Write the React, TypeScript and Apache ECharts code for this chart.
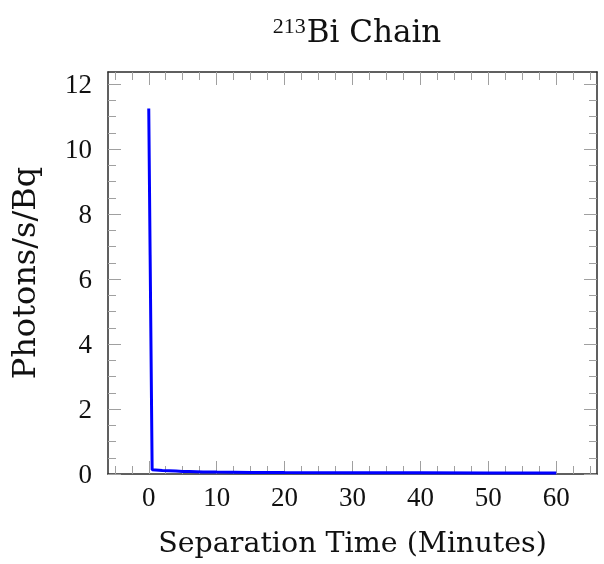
import React, { useEffect, useRef } from "react";
import * as echarts from "echarts";

// Separation time (minutes) and photon yield per decay
const times = [0, 0.5, 2, 3, 4, 5, 6, 8, 10, 15, 20, 30, 40, 50, 60];
const photons = [11.25, 0.13, 0.11, 0.1, 0.09, 0.08, 0.075, 0.065, 0.06, 0.05, 0.045, 0.04, 0.035, 0.03, 0.028];

const xMajorTicks = [0, 10, 20, 30, 40, 50, 60];
const yMajorTicks = [0, 2, 4, 6, 8, 10, 12];

const X_MIN = -6;
const X_MAX = 66;
const Y_MIN = 0;
const Y_MAX = 12.375;

const NUM_FONT = "'Liberation Serif', 'DejaVu Serif', serif";
const WORD_FONT = "'DejaVu Serif', 'Liberation Serif', serif";
const TICK_COLOR = "#a0a0a0";
const FRAME_COLOR = "#2b2b2b";

// minor ticks: three between each pair of majors
function minorTicks(majors: number[], lo: number, hi: number): number[] {
  const major = majors[1] - majors[0];
  const step = major / 4;
  const out: number[] = [];
  const start = majors[0] - major * Math.ceil((majors[0] - lo) / major);
  for (let k = 0; start + k * step <= hi + 1e-9; k++) {
    const v = start + k * step;
    if (k % 4 !== 0 && v > lo + 1e-9 && v < hi - 1e-9) out.push(+v.toFixed(6));
  }
  return out;
}

export default function App() {
  const ref = useRef<HTMLDivElement>(null);

  useEffect(() => {
    if (!ref.current) return;
    const chart = echarts.init(ref.current, null, { renderer: "svg" });

    const xMinor = minorTicks(xMajorTicks, X_MIN, X_MAX);
    const yMinor = minorTicks(yMajorTicks, Y_MIN, Y_MAX);

    const xBase = { type: "value" as const, min: X_MIN, max: X_MAX, splitLine: { show: false } };
    const yBase = { type: "value" as const, min: Y_MIN, max: Y_MAX, splitLine: { show: false } };

    const majorTick = (vals: number[]) => ({
      show: true,
      inside: true,
      length: 13,
      customValues: vals,
      lineStyle: { color: TICK_COLOR, width: 1 },
    });
    const minorTick = (vals: number[]) => ({
      show: true,
      inside: true,
      length: 8,
      customValues: vals,
      lineStyle: { color: TICK_COLOR, width: 1 },
    });
    const frameLine = { show: true, onZero: false, lineStyle: { color: FRAME_COLOR, width: 1.5 } };
    const hiddenLine = { show: false, onZero: false };

    chart.setOption({
      animation: false,
      title: {
        text: "{sup|213}{main|Bi Chain}",
        left: 352,
        top: 9,
        textAlign: "center",
        textStyle: {
          fontWeight: "normal",
          rich: {
            sup: { fontFamily: NUM_FONT, fontSize: 22, fontWeight: "normal", color: "#111", verticalAlign: "top", padding: [0, 1, 12, 0] },
            main: { fontFamily: WORD_FONT, fontSize: 31, fontWeight: "normal", color: "#111" },
          },
        },
      },
      grid: { left: 107, top: 72, width: 490, height: 402 },
      xAxis: [
        {
          ...xBase,
          position: "bottom",
          axisLine: frameLine,
          axisTick: majorTick(xMajorTicks),
          axisLabel: {
            customValues: xMajorTicks,
            fontFamily: NUM_FONT,
            fontSize: 27,
            color: "#111",
            margin: 9,
          },
          name: "Separation Time (Minutes)",
          nameLocation: "middle",
          nameGap: 54,
          nameTextStyle: { fontFamily: WORD_FONT, fontSize: 28.5, color: "#111" },
        },
        { ...xBase, position: "bottom", axisLine: hiddenLine, axisTick: minorTick(xMinor), axisLabel: { show: false } },
        { ...xBase, position: "top", axisLine: frameLine, axisTick: majorTick(xMajorTicks), axisLabel: { show: false } },
        { ...xBase, position: "top", axisLine: hiddenLine, axisTick: minorTick(xMinor), axisLabel: { show: false } },
      ],
      yAxis: [
        {
          ...yBase,
          position: "left",
          axisLine: frameLine,
          axisTick: majorTick(yMajorTicks),
          axisLabel: {
            customValues: yMajorTicks,
            fontFamily: NUM_FONT,
            fontSize: 27,
            color: "#111",
            margin: 16,
          },
          name: "Photons/s/Bq",
          nameLocation: "middle",
          nameGap: 68,
          nameTextStyle: { fontFamily: WORD_FONT, fontSize: 32, color: "#111" },
        },
        { ...yBase, position: "left", axisLine: hiddenLine, axisTick: minorTick(yMinor), axisLabel: { show: false } },
        { ...yBase, position: "right", axisLine: frameLine, axisTick: majorTick(yMajorTicks), axisLabel: { show: false } },
        { ...yBase, position: "right", axisLine: hiddenLine, axisTick: minorTick(yMinor), axisLabel: { show: false } },
      ],
      series: [
        {
          type: "line",
          xAxisIndex: 0,
          yAxisIndex: 0,
          data: times.map((t, i) => [t, photons[i]]),
          showSymbol: false,
          lineStyle: { color: "#0000ff", width: 3 },
          itemStyle: { color: "#0000ff" },
        },
      ],
    });

    return () => chart.dispose();
  }, []);

  return <div ref={ref} style={{ position: "fixed", left: 0, top: 0, width: 604, height: 564 }} />;
}
